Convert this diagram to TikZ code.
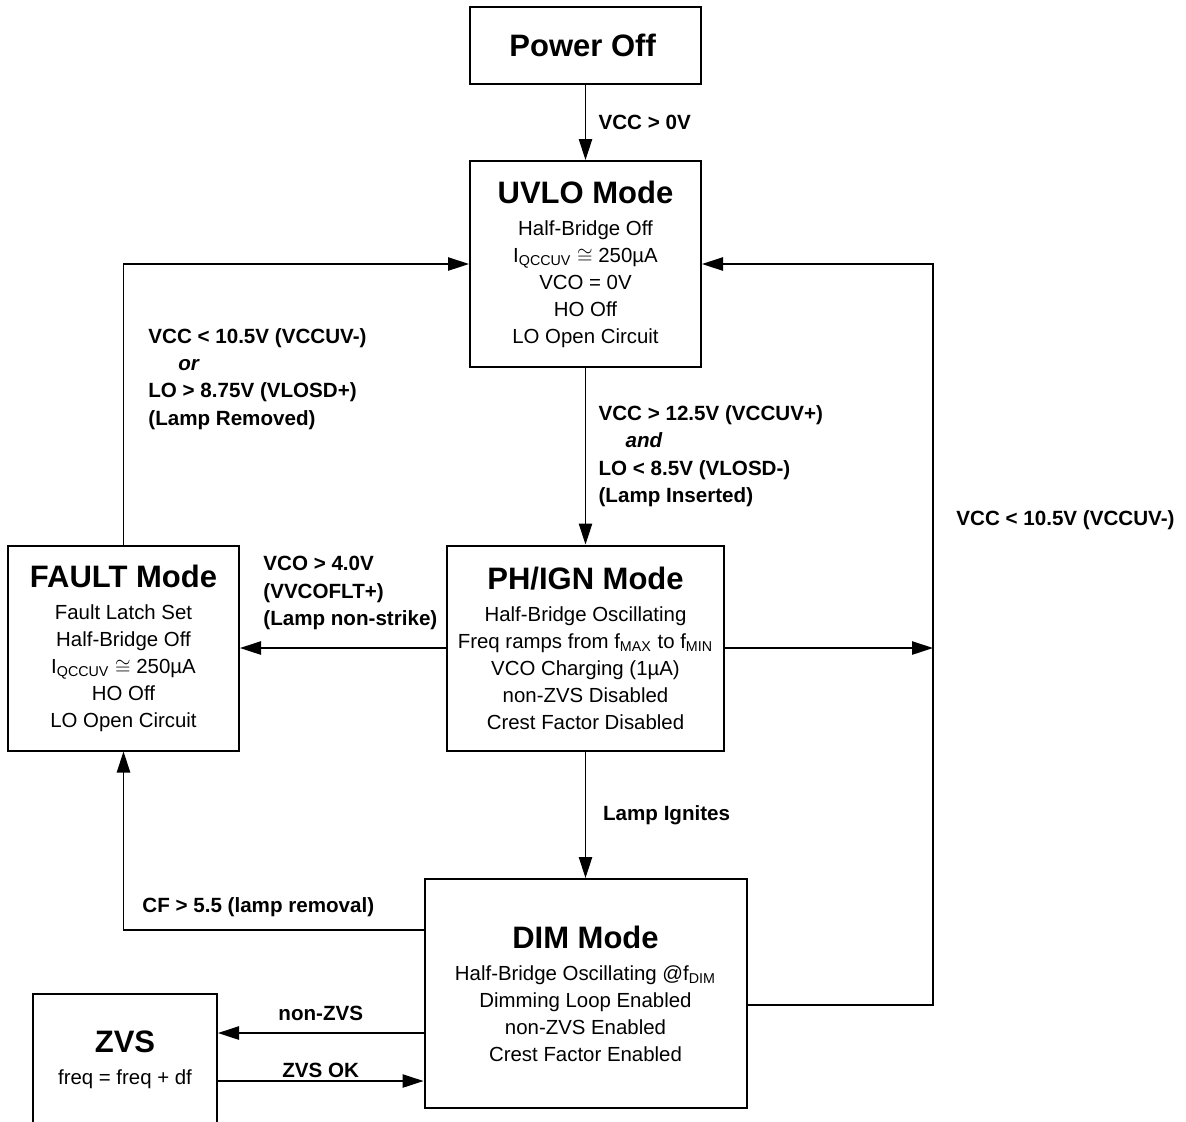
\documentclass[tikz,border=0pt]{standalone}
\usepackage{fontspec}
\setmainfont{Liberation Sans}
\usetikzlibrary{arrows.meta,positioning,calc}
\newcommand{\modetitle}[1]{{\fontsize{15.5}{17}\selectfont\bfseries #1}\\[2.5pt]}

\begin{document}
\begin{tikzpicture}[x=0.5pt, y=-0.5pt,
    mode/.style={rectangle, draw, line width=1pt, align=center, inner sep=0pt, font=\fontsize{10.2}{13.5}\selectfont},
    arrow/.style={-{Triangle[length=10.5pt, width=6.7pt]}, line width=0.6pt},
    cond/.style={align=left, inner sep=0pt, font=\fontsize{10.3}{13.6}\selectfont\bfseries}
]
\useasboundingbox (0,0) rectangle (1186,1121);
\clip (0,0) rectangle (1186,1121);

% Mode boxes
\node[mode, minimum width=115.5pt, minimum height=38.5pt] (power) at (585.5,45.5) {
    {\fontsize{15.5}{17}\selectfont\bfseries Power Off}
};

\node[mode, minimum width=115.5pt, minimum height=103pt] (uvlo) at (585.5,264) {
    \modetitle{UVLO Mode}
    Half-Bridge Off\\
    I\textsubscript{QCCUV} $\cong$ 250µA\\
    VCO = 0V\\
    HO Off\\
    LO Open Circuit
};

\node[mode, minimum width=115.5pt, minimum height=102.5pt] (fault) at (123.5,648) {
    \modetitle{FAULT Mode}
    Fault Latch Set\\
    Half-Bridge Off\\
    I\textsubscript{QCCUV} $\cong$ 250µA\\
    HO Off\\
    LO Open Circuit
};

\node[mode, minimum width=138.5pt, minimum height=102.5pt] (phign) at (585.5,648) {
    \modetitle{PH/IGN Mode}
    Half-Bridge Oscillating\\
    Freq ramps from f\textsubscript{MAX} to f\textsubscript{MIN}\\
    VCO Charging (1µA)\\
    non-ZVS Disabled\\
    Crest Factor Disabled
};

\node[mode, minimum width=161pt, minimum height=114.5pt] (dim) at (585.5,993.5) {
    \modetitle{DIM Mode}
    Half-Bridge Oscillating @f\textsubscript{DIM}\\
    Dimming Loop Enabled\\
    non-ZVS Enabled\\
    Crest Factor Enabled
};

\node[mode, minimum width=92pt, minimum height=66pt] (zvs) at (125,1060) {
    \modetitle{ZVS}
    freq = freq + df
};

\coordinate (rail) at (933,264);

% Transitions
\draw[arrow] (power) -- (uvlo) node[midway, cond, anchor=west, xshift=6.25pt] {VCC > 0V};

\draw[arrow] (uvlo) -- (phign) node[midway, cond, anchor=west, xshift=6.25pt] {
    VCC > 12.5V (VCCUV+)\\
    \hspace{13.5pt}\textit{and}\\
    LO < 8.5V (VLOSD-)\\
    (Lamp Inserted)
};

\draw[arrow] (phign) -- (dim) node[midway, cond, anchor=west, xshift=8.5pt] {Lamp Ignites};

\draw[arrow] (phign) -- (fault);
\node[cond, anchor=west] (strike) at (263,593) {
    VCO > 4.0V\\
    (VVCOFLT+)\\
    (Lamp non-strike)
};

\draw[arrow] (fault.north) |- (uvlo.west);
\node[cond, anchor=west] (removed) at (148,379) {
    VCC < 10.5V (VCCUV-)\\
    \hspace{15pt}\textit{or}\\
    LO > 8.75V (VLOSD+)\\
    (Lamp Removed)
};

\draw[arrow] ($(dim.west)+(0,-63.5)$) -| (fault.south);
\node[cond, anchor=west] (crest) at (142,907) {CF > 5.5 (lamp removal)};

\draw[arrow] ($(dim.west)+(0,39.5)$) coordinate (nzvs) -- (nzvs -| zvs.east)
    node[midway, cond, yshift=10pt] {non-ZVS};
\draw[arrow] ($(zvs.east)+(0,21)$) coordinate (zok) -- (zok -| dim.west)
    node[midway, cond, yshift=5.5pt] {ZVS OK};

\draw[arrow] (phign.east) -- (phign.east -| rail);
\draw[arrow] ($(dim.east)+(0,11.5)$) -| (rail) -- (uvlo.east);
\node[cond, anchor=west] (undervolt) at (956,520) {VCC < 10.5V (VCCUV-)};

\end{tikzpicture}
\end{document}
